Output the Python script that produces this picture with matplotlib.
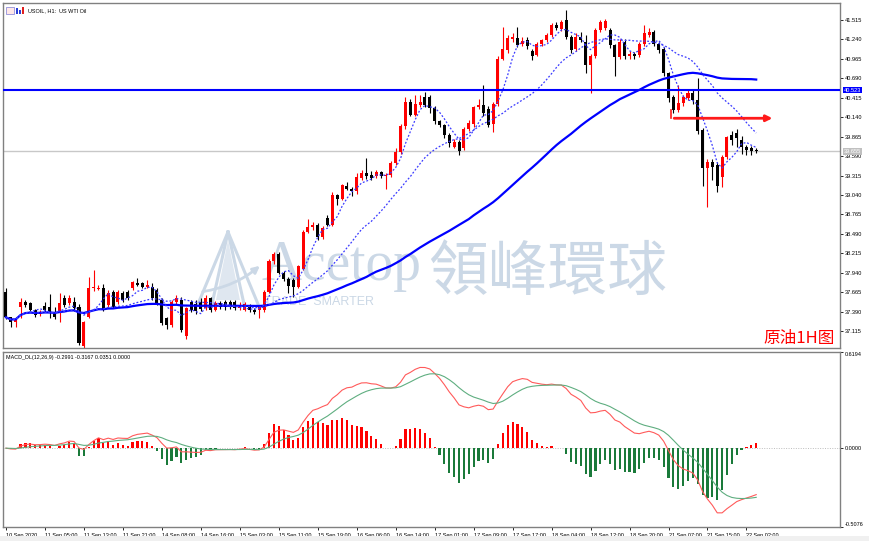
import matplotlib
matplotlib.use("Agg")
import matplotlib.pyplot as plt
import matplotlib.transforms as mtransforms
from matplotlib.patches import Polygon, Rectangle
import numpy as np
import pandas as pd

# ---- data (USOIL H1) ----
opens = [37.67, 37.31, 37.25, 37.46, 37.53, 37.51, 37.41, 37.36, 37.47, 37.45,
         37.39, 37.39, 37.58, 37.51, 37.53, 37.46, 36.90, 37.32, 37.72, 37.71,
         37.72, 37.49, 37.67, 37.53, 37.65, 37.67, 37.72, 37.80, 37.79, 37.74,
         37.74, 37.70, 37.56, 37.30, 37.20, 37.53, 37.56, 37.04, 37.53, 37.50,
         37.52, 37.44, 37.58, 37.42, 37.51, 37.53, 37.52, 37.52, 37.44, 37.42,
         37.48, 37.42, 37.41, 37.41, 37.67, 38.10, 38.21, 37.94, 37.85, 37.84,
         37.74, 38.00, 38.52, 38.59, 38.62, 38.45, 38.72, 38.62, 39.04, 38.99,
         39.17, 39.13, 39.09, 39.28, 39.35, 39.32, 39.31, 39.36, 39.31, 39.32,
         39.49, 39.65, 40.01, 40.36, 40.17, 40.31, 40.43, 40.43, 40.27, 40.08,
         40.03, 39.89, 39.72, 39.79, 39.70, 39.98, 40.04, 40.28, 40.31, 40.26,
         40.05, 40.33, 40.97, 41.09, 41.24, 41.26, 41.17, 41.23, 41.08, 41.02,
         41.18, 41.23, 41.30, 41.44, 41.39, 41.51, 41.28, 41.11, 41.28, 41.20,
         40.88, 41.00, 41.37, 41.40, 41.37, 41.16, 40.99, 41.21, 41.00, 41.04,
         41.02, 41.17, 41.30, 41.35, 41.18, 41.11, 40.76, 40.43, 40.24, 40.34,
         40.41, 40.48, 40.38, 39.96, 39.42, 39.51, 39.47, 39.30, 39.58, 39.89,
         39.91, 39.82, 39.72, 39.70, 39.68]
highs = [37.72, 37.32, 37.31, 37.58, 37.55, 37.53, 37.43, 37.41, 37.52, 37.64,
         37.45, 37.65, 37.62, 37.62, 37.60, 37.50, 37.26, 37.88, 37.98, 37.76,
         37.78, 37.70, 37.70, 37.70, 37.68, 37.70, 37.83, 37.86, 37.81, 37.84,
         37.80, 37.72, 37.58, 37.32, 37.56, 37.62, 37.60, 37.46, 37.56, 37.55,
         37.58, 37.62, 37.60, 37.54, 37.54, 37.56, 37.56, 37.56, 37.52, 37.53,
         37.50, 37.44, 37.48, 37.70, 38.13, 38.24, 38.24, 37.97, 37.88, 37.86,
         38.05, 38.55, 38.70, 38.66, 38.65, 38.60, 38.76, 39.08, 39.06, 39.20,
         39.22, 39.15, 39.35, 39.40, 39.57, 39.38, 39.40, 39.38, 39.35, 39.52,
         39.70, 40.05, 40.42, 40.40, 40.45, 40.45, 40.50, 40.46, 40.30, 40.10,
         40.05, 39.92, 39.83, 39.82, 40.00, 40.10, 40.30, 40.40, 40.59, 40.30,
         40.36, 41.00, 41.41, 41.30, 41.33, 41.42, 41.27, 41.28, 41.10, 41.20,
         41.25, 41.33, 41.47, 41.48, 41.52, 41.66, 41.30, 41.33, 41.35, 41.30,
         41.03, 41.40, 41.52, 41.53, 41.40, 41.18, 41.25, 41.24, 41.07, 41.06,
         41.20, 41.44, 41.40, 41.37, 41.20, 41.13, 40.78, 40.46, 40.60, 40.46,
         40.52, 40.52, 40.69, 39.99, 39.55, 39.55, 39.50, 39.60, 39.88, 39.95,
         39.98, 39.88, 39.75, 39.73, 39.70]
lows = [37.29, 37.17, 37.17, 37.30, 37.45, 37.39, 37.32, 37.33, 37.38, 37.30,
        37.28, 37.25, 37.46, 37.48, 37.40, 36.92, 36.88, 37.30, 37.68, 37.69,
        37.40, 37.46, 37.44, 37.50, 37.53, 37.55, 37.70, 37.75, 37.72, 37.72,
        37.56, 37.48, 37.20, 37.15, 37.18, 37.50, 37.10, 37.00, 37.38, 37.36,
        37.40, 37.41, 37.38, 37.40, 37.43, 37.42, 37.43, 37.41, 37.42, 37.40,
        37.38, 37.36, 37.30, 37.39, 37.65, 38.07, 37.92, 37.82, 37.65, 37.60,
        37.72, 37.98, 38.50, 38.55, 38.40, 38.42, 38.60, 38.60, 38.90, 38.97,
        39.11, 39.02, 39.05, 39.25, 39.27, 39.25, 39.28, 39.28, 39.13, 39.30,
        39.46, 39.62, 39.98, 40.15, 40.15, 40.29, 40.29, 40.20, 40.05, 40.00,
        39.84, 39.72, 39.70, 39.61, 39.68, 39.95, 40.00, 40.25, 40.15, 40.00,
        39.93, 40.30, 40.95, 41.05, 41.20, 41.13, 41.14, 41.10, 40.95, 41.00,
        41.15, 41.20, 41.28, 41.37, 41.36, 41.25, 41.05, 41.08, 41.20, 40.76,
        40.48, 40.98, 41.35, 41.38, 41.12, 40.72, 40.97, 40.97, 40.96, 40.96,
        40.99, 41.14, 41.28, 41.15, 41.05, 40.72, 40.36, 40.20, 40.21, 40.30,
        40.38, 40.32, 39.90, 39.16, 38.87, 39.25, 39.08, 39.15, 39.55, 39.75,
        39.72, 39.62, 39.60, 39.60, 39.63]
closes = [37.31, 37.25, 37.28, 37.53, 37.48, 37.41, 37.34, 37.39, 37.42, 37.37,
          37.32, 37.51, 37.49, 37.58, 37.44, 36.94, 37.25, 37.72, 37.73, 37.73,
          37.41, 37.65, 37.46, 37.67, 37.56, 37.58, 37.81, 37.77, 37.74, 37.77,
          37.58, 37.51, 37.23, 37.20, 37.53, 37.58, 37.13, 37.44, 37.41, 37.40,
          37.43, 37.58, 37.42, 37.51, 37.46, 37.46, 37.46, 37.44, 37.49, 37.50,
          37.41, 37.39, 37.46, 37.67, 38.10, 38.21, 37.94, 37.85, 37.75, 37.74,
          38.03, 38.52, 38.59, 38.62, 38.45, 38.57, 38.62, 39.04, 38.99, 39.18,
          39.13, 39.09, 39.30, 39.35, 39.31, 39.28, 39.37, 39.31, 39.32, 39.49,
          39.65, 40.01, 40.36, 40.17, 40.33, 40.36, 40.31, 40.27, 40.08, 40.03,
          39.89, 39.77, 39.79, 39.66, 39.98, 40.06, 40.29, 40.31, 40.20, 40.03,
          40.33, 40.97, 41.10, 41.26, 41.27, 41.16, 41.22, 41.14, 41.00, 41.18,
          41.23, 41.30, 41.44, 41.40, 41.49, 41.28, 41.09, 41.28, 41.23, 40.88,
          41.00, 41.37, 41.49, 41.50, 41.16, 40.99, 41.21, 41.00, 41.04, 41.00,
          41.17, 41.33, 41.35, 41.18, 41.09, 40.76, 40.41, 40.24, 40.34, 40.43,
          40.48, 40.38, 39.94, 39.42, 39.51, 39.44, 39.16, 39.58, 39.86, 39.82,
          39.84, 39.72, 39.68, 39.66, 39.66]

time_labels = ["10 Sep 2020", "11 Sep 05:00", "11 Sep 13:00", "11 Sep 21:00",
               "14 Sep 08:00", "14 Sep 16:00", "15 Sep 03:00", "15 Sep 11:00",
               "15 Sep 19:00", "16 Sep 06:00", "16 Sep 14:00", "17 Sep 01:00",
               "17 Sep 09:00", "17 Sep 17:00", "18 Sep 04:00", "18 Sep 12:00",
               "18 Sep 20:00", "21 Sep 07:00", "21 Sep 15:00", "22 Sep 02:00"]
price_ticks = [37.115, 37.390, 37.665, 37.940, 38.215, 38.490, 38.765, 39.040,
               39.315, 39.590, 39.865, 40.140, 40.415, 40.690, 40.965, 41.240, 41.515]
macd_ticks = [-0.5076, 0.0, 0.6194]
level_line = 40.523      # blue horizontal line
bid_price = 39.655       # grey current price line
target_level = 40.125    # red arrow level
target_from, target_to = 136.6, 157.9

# ---- indicators from the closes ----
c = pd.Series(closes)
ma_fast = c.rolling(5, min_periods=1).mean()
ma_mid = c.rolling(20, min_periods=1).mean()
ma_slow = c.rolling(60, min_periods=1).mean()
macd = c.ewm(span=12, adjust=False).mean() - c.ewm(span=26, adjust=False).mean()
signal = macd.ewm(span=9, adjust=False).mean()
hist = 2 * (macd - signal)

# ---- figure ----
W, H = 870, 541
fig = plt.figure(figsize=(W / 100, H / 100), dpi=100)
FONT = ['Liberation Sans', 'DejaVu Sans']


def frect(x0, y0, x1, y1):
    return [x0 / W, 1 - y1 / H, (x1 - x0) / W, (y1 - y0) / H]


def fpt(x, y):
    return (x / W, 1 - y / H)


ax = fig.add_axes(frect(3, 3, 840, 348))
axm = fig.add_axes(frect(3, 352, 840, 527))

idx = np.arange(len(closes))
o, h, l, cl = map(np.array, (opens, highs, lows, closes))
up = cl >= o
col = np.where(up, '#ff0000', '#000000')

# watermark (behind the candles)
wm = '#cbd8e6'
ax.text(*fpt(262, 280), 'Acetop', transform=fig.transFigure, fontsize=40,
        family='Liberation Serif', color=wm, zorder=0.5, va='baseline')
ax.text(*fpt(428, 273), '領峰環球', transform=fig.transFigure, fontsize=43,
        family=['Noto Sans CJK TC'], color=wm, zorder=0.5, va='center')
ax.text(*fpt(264, 302), 'TRADE  SMARTER', transform=fig.transFigure, fontsize=9,
        family='Liberation Sans', color=wm, zorder=0.5, va='center')
for xb in (198, 212, 244, 258):
    ax.add_artist(plt.Line2D([fpt(228, 232)[0], fpt(xb, 304)[0]],
                             [fpt(228, 232)[1], fpt(xb, 304)[1]],
                             transform=fig.transFigure, color=wm, lw=2.2, zorder=0.5))
ax.add_artist(Polygon([fpt(228, 240), fpt(216, 300), fpt(240, 300)], closed=True,
                      transform=fig.transFigure, facecolor=wm, edgecolor='none',
                      alpha=0.6, zorder=0.5))
ax.annotate('', xy=fpt(262, 264), xytext=fpt(200, 292),
            xycoords='figure fraction', textcoords='figure fraction',
            arrowprops=dict(arrowstyle='-|>', color=wm, lw=2.0,
                            connectionstyle='arc3,rad=0.15'), zorder=0.5)

# candles
ax.vlines(idx, l, h, colors=col, lw=0.8, zorder=2)
ax.bar(idx, np.maximum(np.abs(cl - o), 0.012), bottom=np.minimum(o, cl), width=0.62,
       color=col, linewidth=0, zorder=3)

# moving averages
ax.plot(idx, ma_slow, color='#0000ff', lw=1.6, zorder=4)
ax.plot(idx, ma_mid, color='#3a3aff', lw=0.9, ls=(0, (1.5, 1.5)), zorder=4)
ax.plot(idx, ma_fast, color='#3a3aff', lw=0.9, ls=(0, (1.5, 1.5)), zorder=4)

ax.axhline(level_line, color='#0000ff', lw=1.5, zorder=4)
ax.axhline(bid_price, color='#c8c8c8', lw=1.0, zorder=1)

ax.plot([target_from, target_from], [target_level, target_level + 0.11], color='#ff1a1a',
        lw=1.2, zorder=5)
ax.annotate('', xy=(target_to, target_level), xytext=(target_from, target_level),
            arrowprops=dict(arrowstyle='-|>', color='#ff1a1a', lw=2.0,
                            mutation_scale=9), zorder=5)

ax.set_xlim(-0.6, 171.2)
ax.set_ylim(36.876, 41.755)
ax.yaxis.tick_right()
ax.set_yticks(price_ticks)
ax.set_yticklabels([f'{v:.3f}' for v in price_ticks], fontsize=4.1, family=FONT)
ax.set_xticks([])
ax.tick_params(axis='y', length=2.5, width=0.6, pad=1, colors='#000000')

# right-side price tags
bt = mtransforms.blended_transform_factory(ax.transAxes, ax.transData)
ax.text(1.0045, level_line, f'{level_line:.3f}', transform=bt, fontsize=4.1, family=FONT,
        color='white', va='center', ha='left',
        bbox=dict(boxstyle='square,pad=0.15', fc='#0000ff', ec='none'), zorder=6)
ax.text(1.0045, bid_price, f'{bid_price:.3f}', transform=bt, fontsize=4.1, family=FONT,
        color='white', va='center', ha='left',
        bbox=dict(boxstyle='square,pad=0.15', fc='#c0c0c0', ec='none'), zorder=6)

ax.text(0.03, 0.985, 'USOIL, H1:  US WTI Oil', transform=ax.transAxes, fontsize=4.0,
        family=FONT, va='top', ha='left')
ax.add_artist(Rectangle(fpt(6, 14), 8 / W, 7 / H, transform=fig.transFigure,
                        fc='#ffe8e8', ec='#7b7bd6', lw=0.5))
for xb, hb, cb in ((16, 6, '#2a3fd6'), (19, 4, '#2a3fd6'), (22, 7, '#e02020')):
    ax.add_artist(Rectangle(fpt(xb, 14), 2 / W, hb / H, transform=fig.transFigure,
                            fc=cb, ec='none'))

ax.text(*fpt(835, 339), '原油1H图', transform=fig.transFigure, fontsize=12,
        family=['Noto Sans CJK SC'], color='#ff0000', ha='right', va='center', zorder=6)

# ---- MACD panel ----
hcol = np.where(hist >= 0, '#ff0000', '#1a7a3a')
axm.bar(idx, hist, width=0.45, color=hcol, linewidth=0, zorder=2)
axm.plot(idx, macd, color='#ff5a5a', lw=0.8, zorder=3)
axm.plot(idx, signal, color='#5fae80', lw=0.8, zorder=3)
axm.axhline(0, color='#bdbdbd', lw=0.7, ls=(0, (1, 1.5)), zorder=1)
axm.set_xlim(-0.6, 171.2)
axm.set_ylim(macd_ticks[0], macd_ticks[-1])
axm.yaxis.tick_right()
axm.set_yticks(macd_ticks)
axm.set_yticklabels([f'{v:.4f}' for v in macd_ticks], fontsize=4.0, family=FONT)
ylabels = axm.get_yticklabels()
ylabels[0].set_va('bottom')
ylabels[-1].set_va('top')
axm.tick_params(axis='y', length=2.5, width=0.6, pad=1)

axm.set_xticks(np.arange(0, len(closes), 8))
axm.set_xticklabels(time_labels, fontsize=4.0, family=FONT, ha='left')
axm.tick_params(axis='x', length=2.5, width=0.6, pad=1.5)
axm.text(0.003, 0.985, f'MACD_DL(12,26,9) {macd.iloc[-1]:.4f} {signal.iloc[-1]:.4f} '
         f'{hist.iloc[-1]:.4f} 0.0000', transform=axm.transAxes, fontsize=3.9,
         family=FONT, va='top', ha='left')

for a in (ax, axm):
    for s in a.spines.values():
        s.set_color('#808080')
        s.set_linewidth(1.0)

fig.patches.append(Rectangle((0, 0), 1, 5 / H, transform=fig.transFigure,
                             fc='#f0f0f0', ec='none'))

fig.savefig('out.png', dpi=100)
